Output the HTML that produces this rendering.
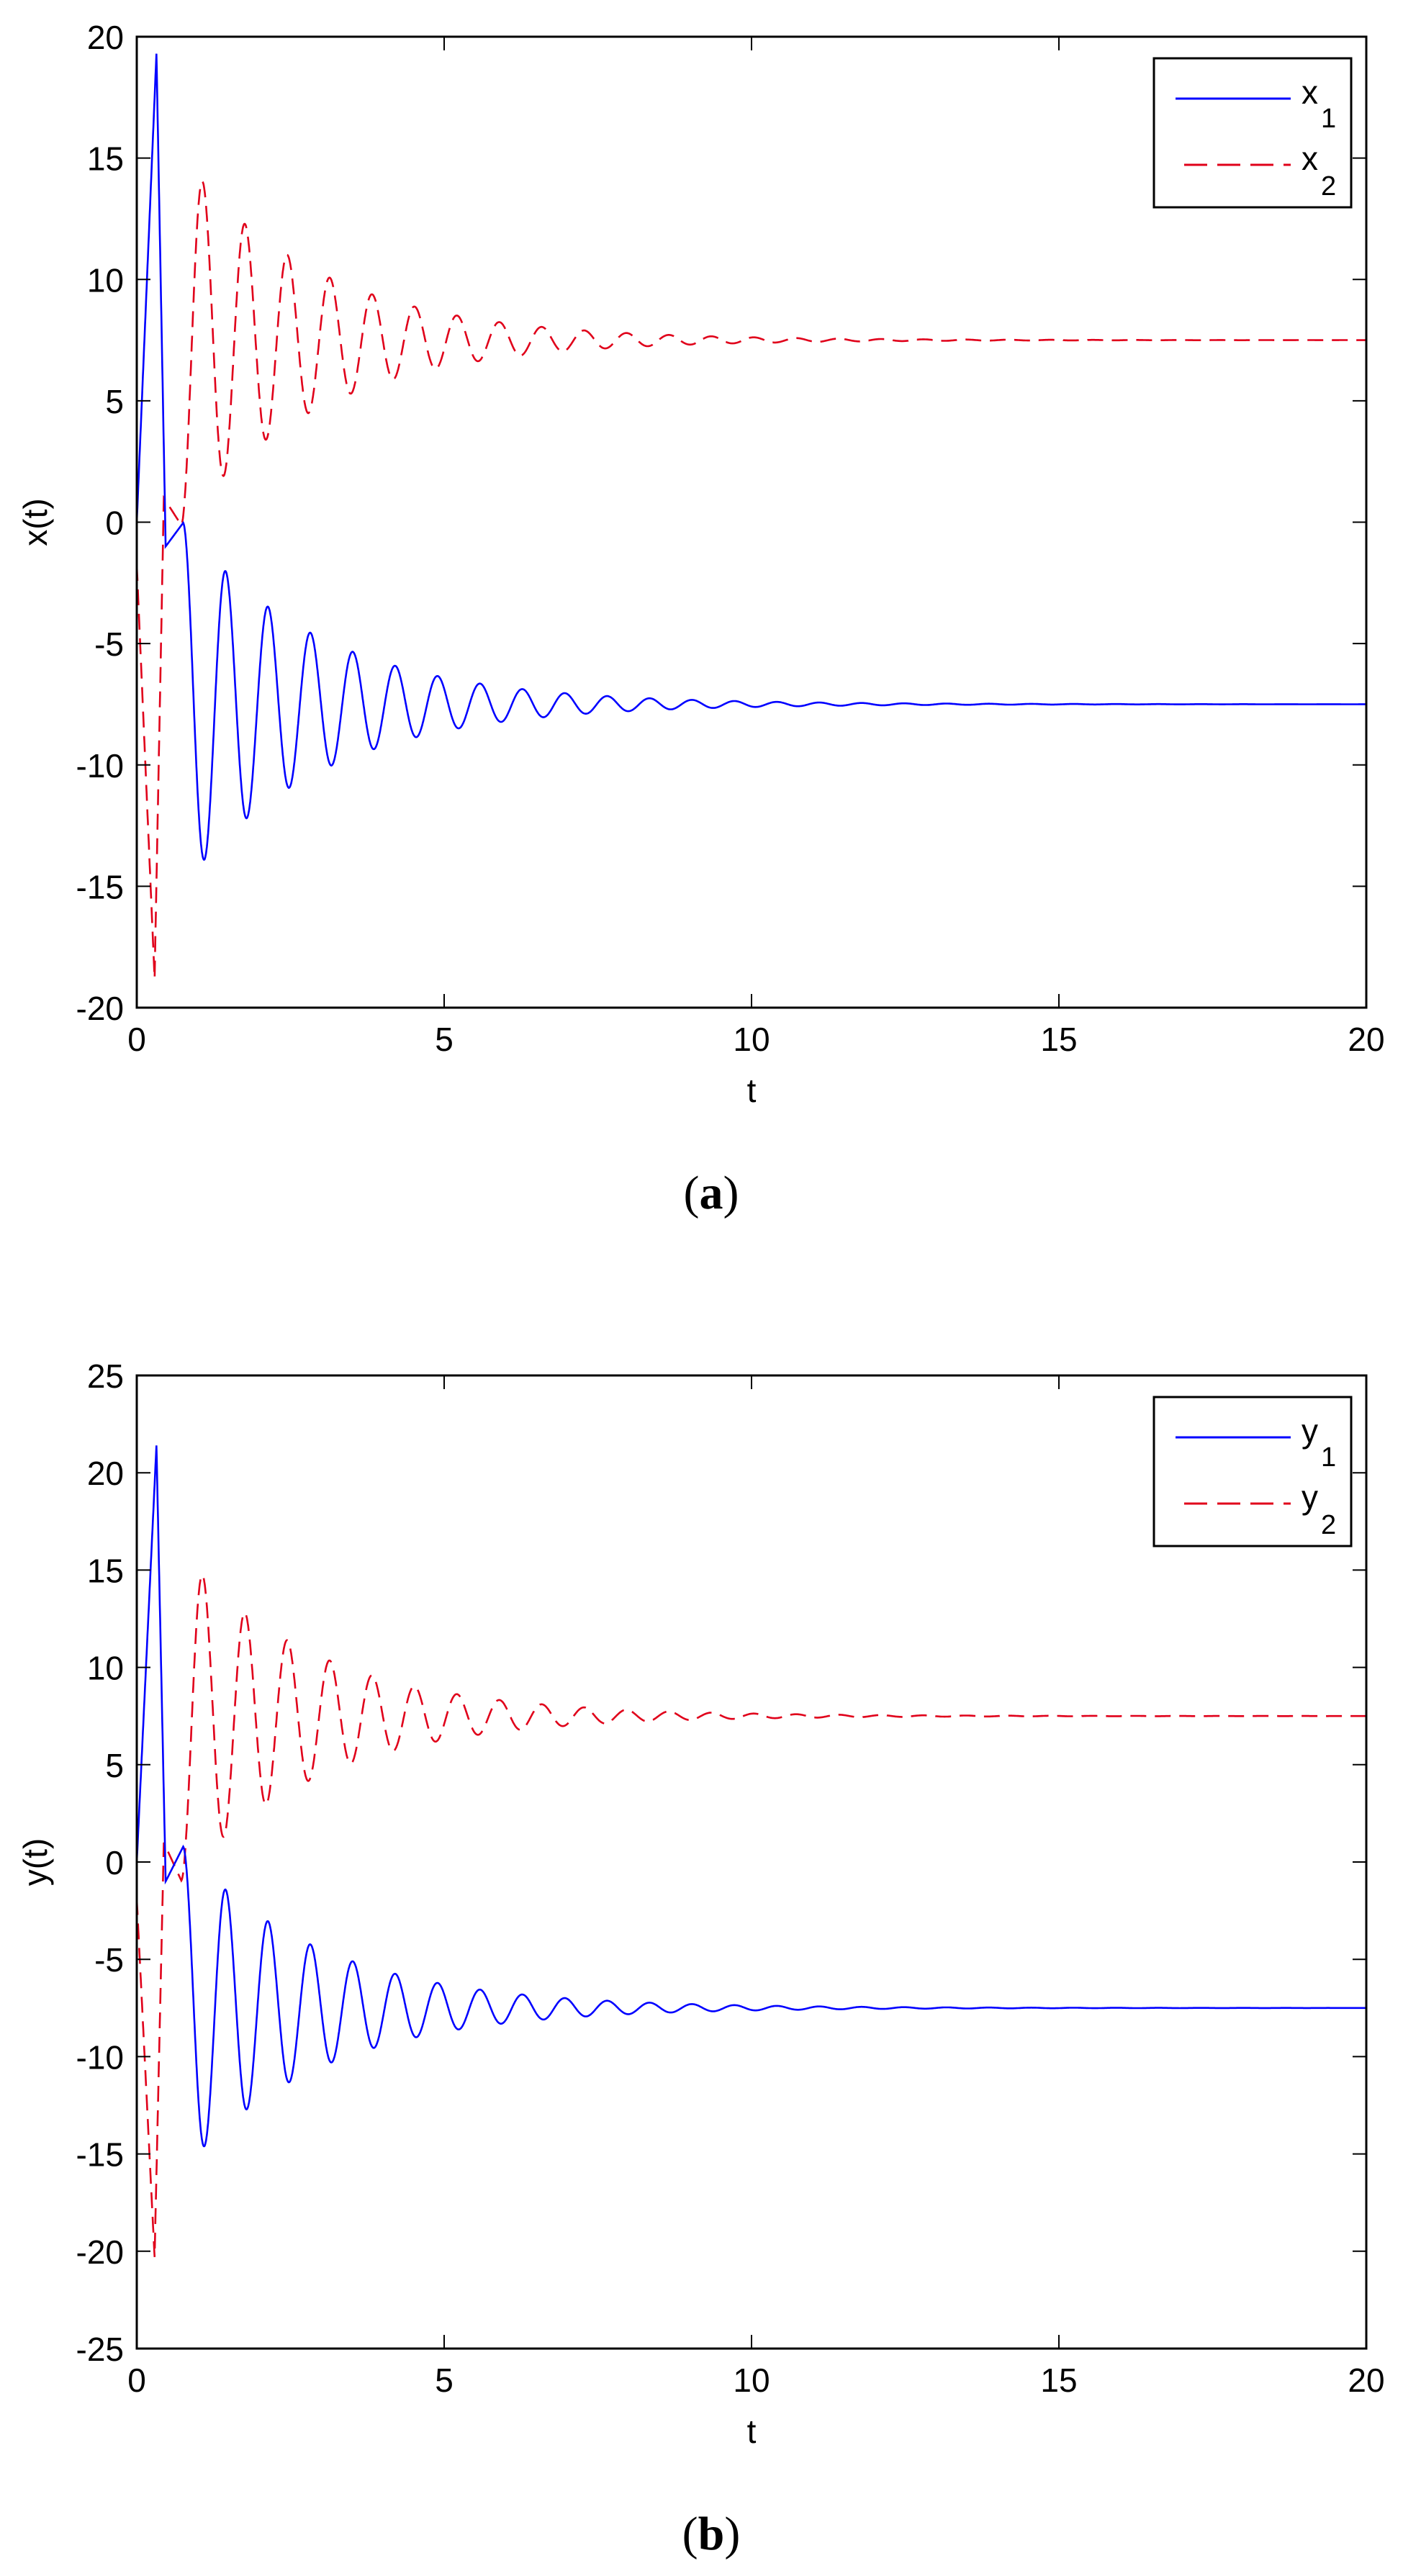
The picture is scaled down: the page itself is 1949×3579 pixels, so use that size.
<!DOCTYPE html>
<html><head><meta charset="utf-8"><style>
html,body{margin:0;padding:0;background:#fff;}
svg{display:block;}
text{font-family:"Liberation Sans",sans-serif;}
text.cap{font-family:"Liberation Serif",serif;}
</style></head><body>
<svg id="s" width="1949" height="3579" viewBox="0 0 1949 3579" xmlns="http://www.w3.org/2000/svg"></svg>
<script>
var NS="http://www.w3.org/2000/svg",S=document.getElementById('s');
function el(n,a,txt){var e=document.createElementNS(NS,n);for(var k in a)e.setAttribute(k,a[k]);if(txt!==undefined)e.textContent=txt;S.appendChild(e);return e;}
function g(t,P,A,T,k){
  var c=-7.5;
  function osc(t){return c+A*Math.exp(-k*(t-1.1))*(-Math.cos(2*Math.PI*(t-1.1)/T));}
  if(t<0)return 0;
  if(t<0.32)return P*(t/0.32);
  if(t<0.47)return P+(-1-P)*(t-0.32)/0.15;
  if(t<0.755){var v=osc(0.755);return -1+(v+1)*(t-0.47)/0.285;}
  return osc(t);
}
function plot(top,bot,ymax,ymin,ystep,lab,P1,P2,A,sub){
  var L=190,R=1898;
  var X=function(t){return L+t*(R-L)/20;};
  var Y=function(v){return top+(ymax-v)*(bot-top)/(ymax-ymin);};
  var d1="",d2="";
  for(var i=0;i<=4000;i++){var t=i*0.005;
    var v1=g(t,P1,A,0.69,0.45);
    var v2=-g(t+0.03,P2,A*1.02,0.69,0.45);
    d1+=(i?"L":"M")+X(t).toFixed(1)+" "+Y(v1).toFixed(1);
    d2+=(i?"L":"M")+X(t).toFixed(1)+" "+Y(v2).toFixed(1);}
  el('path',{d:d2,fill:'none',stroke:'#e0001a','stroke-width':2.6,'stroke-dasharray':'22 12'});
  el('path',{d:d1,fill:'none',stroke:'#0000ff','stroke-width':2.6});
  el('rect',{x:L,y:top,width:R-L,height:bot-top,fill:'none',stroke:'#000','stroke-width':3});
  for(var t=0;t<=20;t+=5){var x=X(t);
    el('line',{x1:x,y1:bot,x2:x,y2:bot-19,stroke:'#000','stroke-width':2});
    el('line',{x1:x,y1:top,x2:x,y2:top+19,stroke:'#000','stroke-width':2});
    el('text',{x:x,y:bot+60,'font-size':46,'text-anchor':'middle'},String(t));}
  for(var v=ymin;v<=ymax;v+=ystep){var y=Y(v);
    el('line',{x1:L,y1:y,x2:L+19,y2:y,stroke:'#000','stroke-width':2});
    el('line',{x1:R,y1:y,x2:R-19,y2:y,stroke:'#000','stroke-width':2});
    el('text',{x:172,y:y+17,'font-size':46,'text-anchor':'end'},String(v));}
  el('text',{x:1044,y:bot+131,'font-size':46,'text-anchor':'middle'},'t');
  var cy=(top+bot)/2;
  el('text',{x:65,y:cy,'font-size':46,'text-anchor':'middle',transform:'rotate(-90 65 '+cy+')'},lab+'(t)');
  var lt=top+30;
  el('rect',{x:1603,y:lt,width:274,height:207,fill:'#fff',stroke:'#000','stroke-width':3});
  el('line',{x1:1633,y1:lt+56,x2:1793,y2:lt+56,stroke:'#0000ff','stroke-width':3});
  el('line',{x1:1645,y1:lt+148,x2:1793,y2:lt+148,stroke:'#e0001a','stroke-width':3,'stroke-dasharray':'32 14'});
  el('text',{x:1808,y:lt+63,'font-size':46},lab);
  el('text',{x:1835,y:lt+96,'font-size':38},'1');
  el('text',{x:1808,y:lt+155,'font-size':46},lab);
  el('text',{x:1835,y:lt+190,'font-size':38},'2');
  var c=el('text',{x:988,y:bot+279,'font-size':66,'text-anchor':'middle','class':'cap'});
  c.innerHTML='(<tspan font-weight="bold">'+sub+'</tspan>)';
}
plot(51,1400,20,-20,5,'x',19.3,18.8,6.4,'a');
plot(1911,3263,25,-25,5,'y',21.4,20.3,7.1,'b');
</script>
</body></html>
